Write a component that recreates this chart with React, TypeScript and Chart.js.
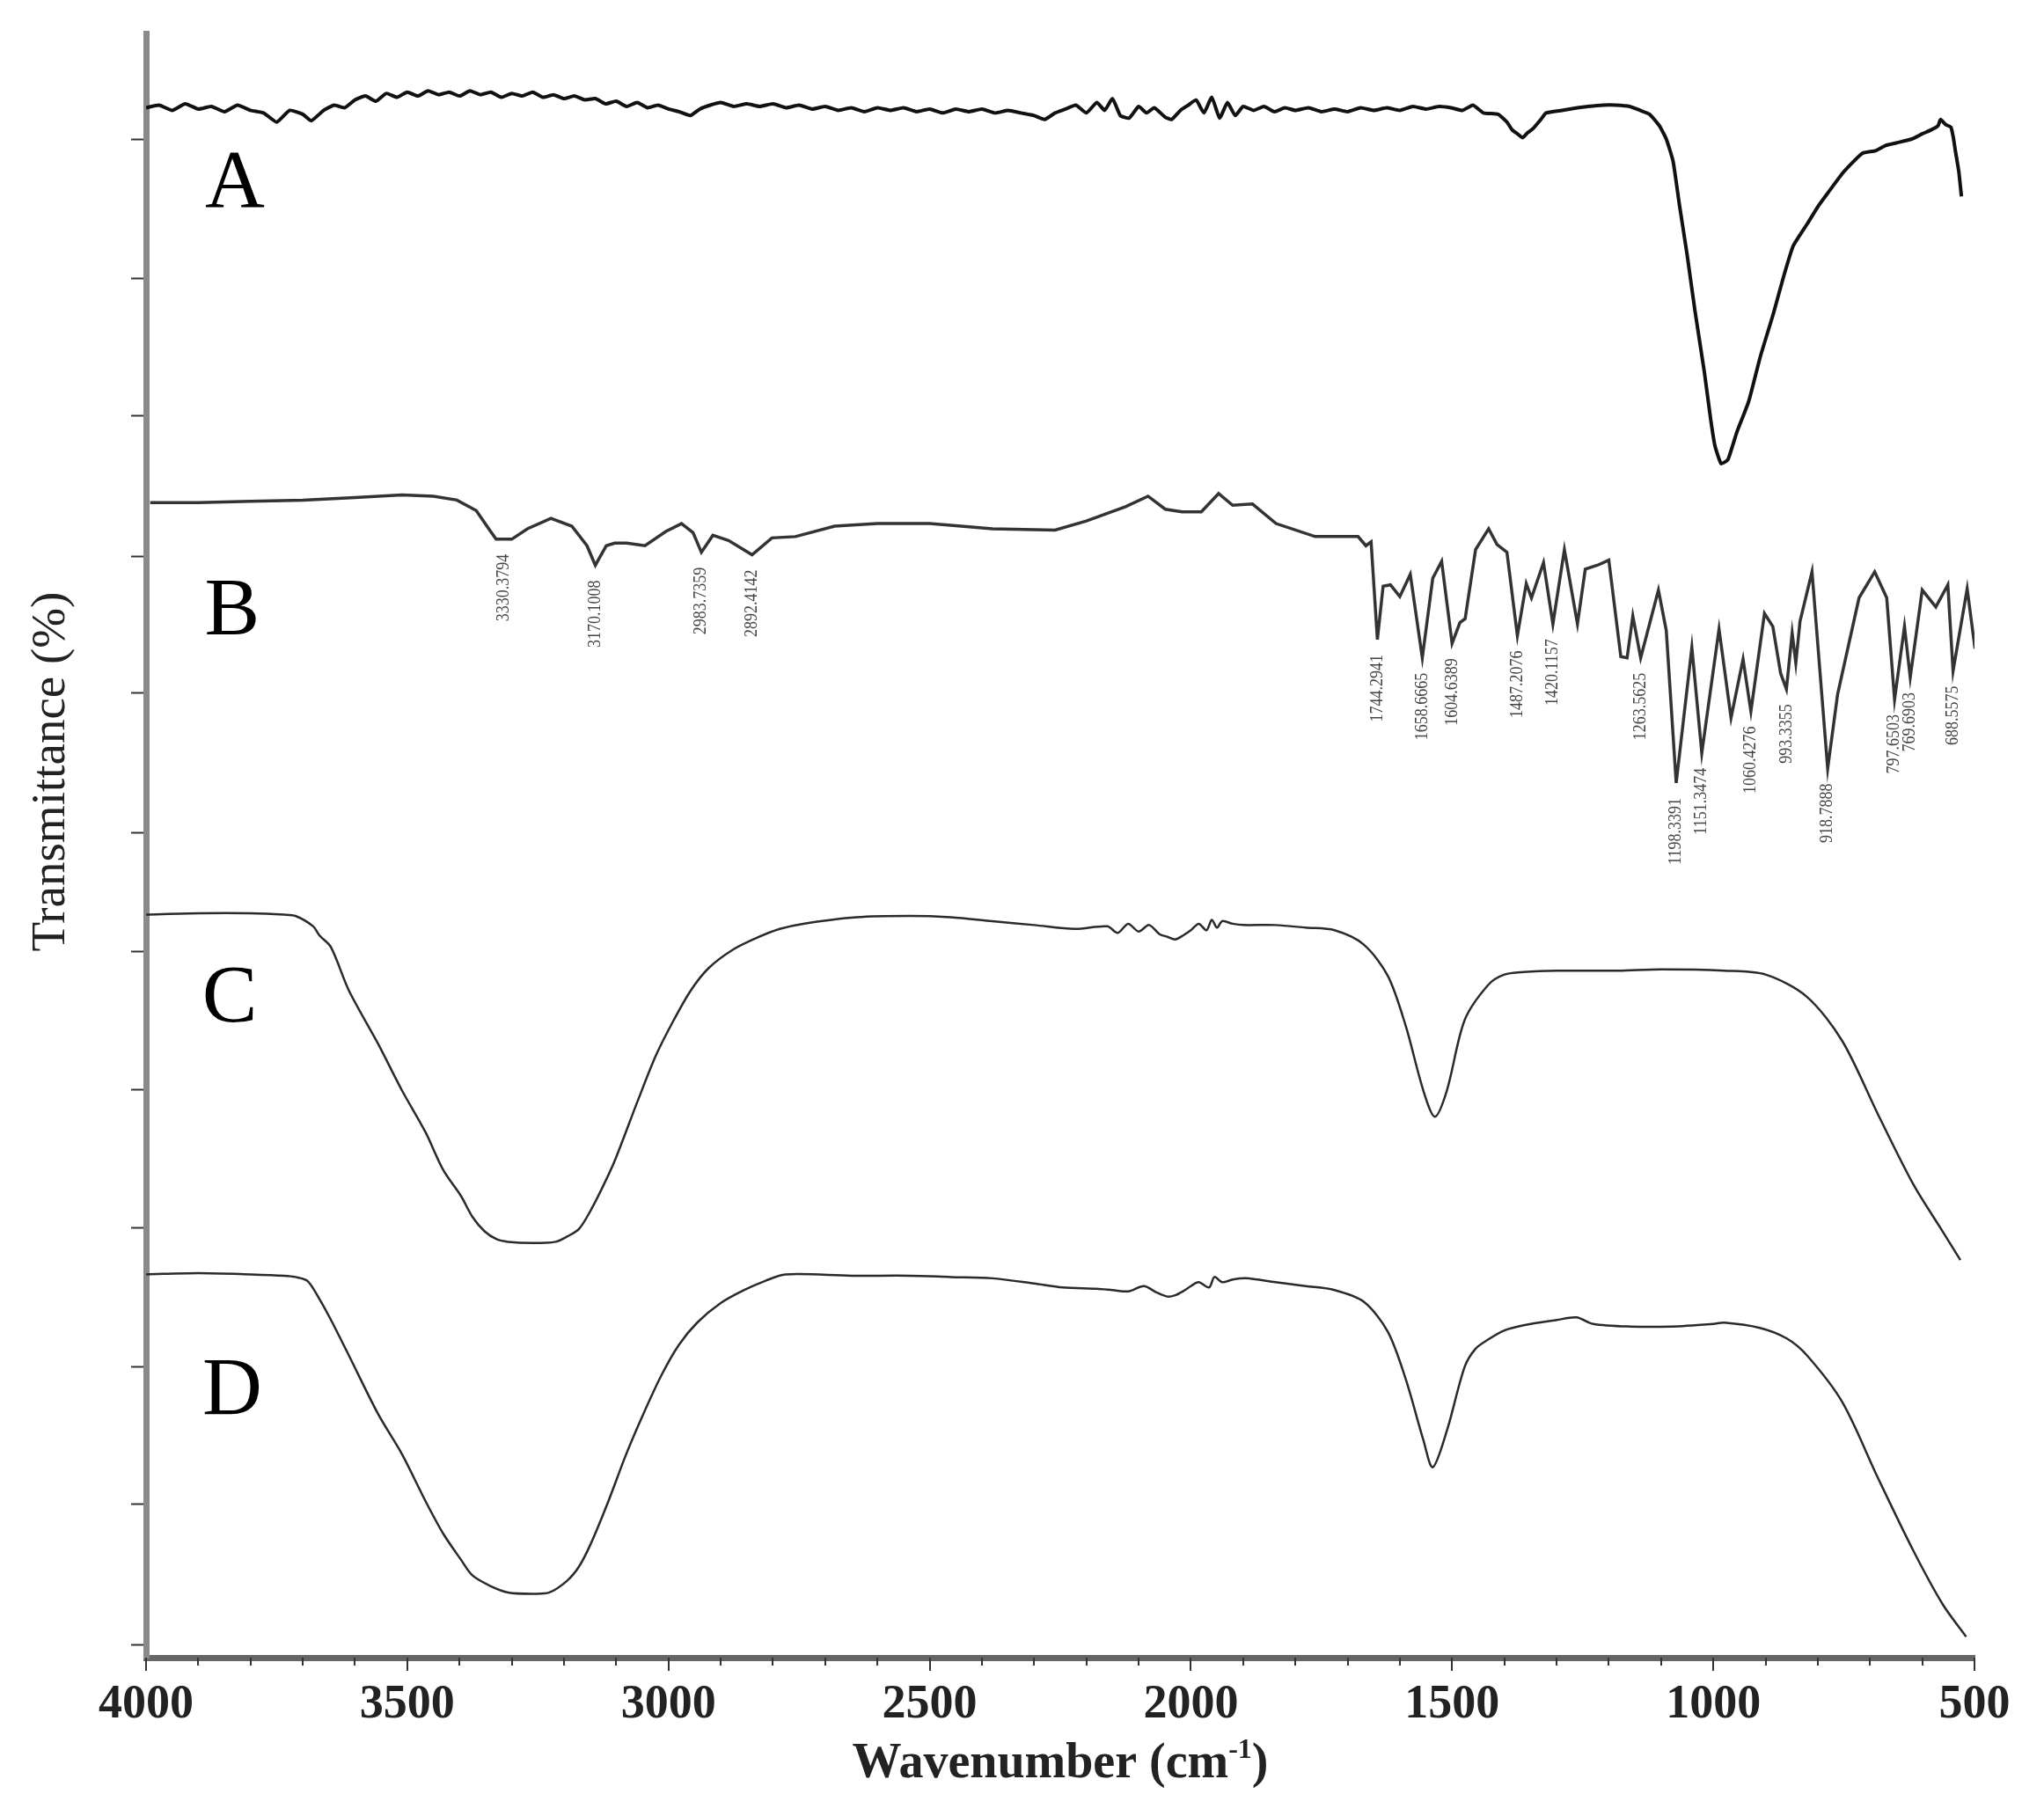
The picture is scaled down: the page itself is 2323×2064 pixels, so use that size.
import React, { useEffect, useRef } from "react";
import { Chart, registerables } from "chart.js";

Chart.register(...registerables);

// ---------- axis values ----------
const X_MIN = 500;
const X_MAX = 4000;
const X_LABEL_TICKS = [4000, 3500, 3000, 2500, 2000, 1500, 1000, 500];
const X_MINOR_STEP = 100;
const Y_MIN = -15;
const Y_MAX = 1231;
const Y_TICKS = [-5, 103, 208, 315, 421, 527, 618, 725, 830, 938, 1043, 1150];

// ---------- spectrum A ----------
const A_X = [4000, 3975, 3950, 3925, 3900, 3875, 3850, 3825, 3800, 3775, 3750, 3725, 3700, 3684, 3660, 3640, 3620, 3600, 3580, 3560, 3540, 3520, 3500, 3480, 3460, 3440, 3420, 3400, 3380, 3360, 3340, 3320, 3300, 3280, 3260, 3240, 3220, 3200, 3180, 3160, 3140, 3120, 3100, 3080, 3060, 3040, 3020, 3000, 2980, 2958, 2940, 2920, 2900, 2875, 2850, 2825, 2800, 2775, 2750, 2725, 2700, 2675, 2650, 2625, 2600, 2575, 2550, 2525, 2500, 2475, 2450, 2425, 2400, 2375, 2350, 2325, 2300, 2280, 2260, 2240, 2220, 2200, 2180, 2165, 2150, 2135, 2118, 2100, 2085, 2070, 2050, 2037, 2020, 2005, 1990, 1975, 1960, 1945, 1930, 1915, 1900, 1880, 1860, 1840, 1820, 1800, 1775, 1750, 1725, 1700, 1675, 1650, 1625, 1600, 1575, 1550, 1525, 1502, 1480, 1460, 1440, 1412, 1395, 1385, 1375, 1365, 1355, 1345, 1330, 1320, 1290, 1260, 1240, 1210, 1187, 1160, 1140, 1122, 1103, 1090, 1077, 1065, 1050, 1035, 1017, 1005, 997, 985, 972, 955, 932, 910, 885, 865, 847, 820, 800, 780, 750, 715, 690, 670, 650, 620, 600, 583, 570, 565, 555, 545, 540, 537, 530, 525];
const A_Y = [1174, 1176, 1172, 1177, 1173, 1175, 1171, 1176, 1172, 1170, 1163, 1172, 1169, 1164, 1172, 1176, 1174, 1180, 1183, 1179, 1185, 1182, 1186, 1183, 1187, 1184, 1186, 1183, 1187, 1184, 1186, 1182, 1185, 1183, 1186, 1182, 1184, 1181, 1183, 1180, 1181, 1177, 1179, 1175, 1178, 1174, 1176, 1173, 1171, 1168, 1173, 1176, 1178, 1175, 1177, 1175, 1177, 1174, 1176, 1173, 1175, 1172, 1174, 1171, 1174, 1172, 1174, 1171, 1173, 1170, 1173, 1171, 1173, 1170, 1172, 1170, 1168, 1165, 1170, 1173, 1176, 1170, 1178, 1172, 1181, 1168, 1166, 1175, 1170, 1174, 1167, 1165, 1172, 1176, 1180, 1170, 1182, 1166, 1178, 1168, 1175, 1172, 1175, 1171, 1174, 1172, 1174, 1171, 1173, 1171, 1174, 1172, 1174, 1172, 1175, 1173, 1175, 1174, 1172, 1176, 1170, 1169, 1163, 1157, 1154, 1151, 1155, 1158, 1165, 1170, 1172, 1174, 1175, 1176, 1176, 1175, 1172, 1169, 1160, 1150, 1133, 1100, 1061, 1018, 971, 935, 915, 901, 904, 925, 949, 983, 1016, 1045, 1068, 1085, 1098, 1109, 1125, 1139, 1141, 1145, 1147, 1150, 1154, 1157, 1160, 1165, 1161, 1159, 1150, 1142, 1125, 1106];

// ---------- spectrum B ----------
const B_X = [3992, 3900, 3800, 3700, 3600, 3510, 3450, 3405, 3368, 3344, 3330, 3315, 3300, 3270, 3225, 3185, 3156, 3140, 3119, 3103, 3080, 3045, 3005, 2975, 2953, 2937, 2915, 2885, 2840, 2802, 2757, 2682, 2600, 2500, 2380, 2260, 2200, 2125, 2082, 2049, 2017, 1980, 1947, 1920, 1882, 1837, 1762, 1680, 1665, 1655, 1643, 1632, 1618, 1600, 1580, 1557, 1537, 1520, 1500, 1485, 1475, 1455, 1430, 1414, 1395, 1375, 1358, 1348, 1325, 1307, 1285, 1260, 1245, 1222, 1200, 1177, 1165, 1154, 1139, 1105, 1090, 1071, 1041, 1022, 989, 966, 943, 928, 902, 886, 871, 860, 849, 842, 834, 811, 781, 762, 721, 691, 668, 653, 634, 623, 600, 574, 551, 541, 514, 499];
const B_Y = [871, 871, 872, 873, 875, 877, 876, 873, 865, 851, 843, 843, 843, 851, 859, 853, 838, 823, 838, 840, 840, 838, 849, 855, 848, 833, 846, 842, 831, 844, 845, 853, 855, 855, 851, 850, 857, 868, 876, 866, 864, 864, 878, 869, 870, 855, 845, 845, 838, 841, 766, 807, 808, 799, 816, 752, 813, 826, 763, 779, 782, 835, 851, 839, 833, 769, 809, 798, 825, 778, 835, 778, 820, 823, 827, 753, 752, 784, 752, 804, 773, 656, 760, 679, 774, 706, 751, 711, 786, 776, 740, 728, 771, 748, 780, 818, 667, 724, 798, 818, 798, 720, 776, 737, 804, 791, 808, 742, 805, 759];

// peak labels of spectrum B and the minima they belong to
const B_PEAK_LABELS = ["3330.3794", "3170.1008", "2983.7359", "2892.4142", "1744.2941", "1658.6665", "1604.6389", "1487.2076", "1420.1157", "1263.5625", "1198.3391", "1151.3474", "1060.4276", "993.3355", "918.7888", "797.6503", "769.6903", "688.5575"];
const B_PEAK_WN = [3315, 3140, 2937, 2840, 1643, 1557, 1500, 1375, 1307, 1139, 1071, 1022, 928, 860, 781, 653, 623, 541];

// ---------- spectrum C ----------
const C_X = [4000, 3900, 3800, 3736, 3714, 3680, 3668, 3646, 3612, 3556, 3510, 3465, 3431, 3397, 3375, 3352, 3329, 3307, 3261, 3216, 3194, 3171, 3149, 3126, 3103, 3058, 3024, 2990, 2957, 2923, 2877, 2832, 2787, 2742, 2640, 2539, 2460, 2380, 2300, 2222, 2160, 2140, 2120, 2100, 2080, 2060, 2045, 2030, 2015, 2000, 1985, 1970, 1960, 1950, 1940, 1920, 1900, 1838, 1780, 1725, 1669, 1623, 1589, 1555, 1533, 1510, 1476, 1431, 1400, 1363, 1300, 1182, 1100, 979, 900, 821, 753, 685, 617, 561, 527];
const C_Y = [555, 556, 556, 555, 554, 546, 539, 530, 497, 456, 420, 388, 359, 339, 323, 312, 306, 304, 303, 304, 308, 314, 328, 346, 366, 413, 447, 474, 497, 514, 528, 537, 544, 548, 553, 554, 553, 550, 547, 544, 546, 541, 548, 542, 547, 540, 538, 536, 539, 543, 548, 543, 551, 545, 550, 548, 547, 547, 545, 543, 532, 508, 470, 420, 400, 420, 474, 501, 509, 511, 512, 512, 513, 512, 509, 492, 458, 402, 348, 312, 290];

// ---------- spectrum D ----------
const D_X = [4000, 3900, 3800, 3736, 3714, 3691, 3668, 3646, 3612, 3556, 3510, 3465, 3431, 3397, 3375, 3341, 3307, 3261, 3228, 3194, 3171, 3148, 3115, 3081, 3048, 3013, 2980, 2945, 2900, 2855, 2815, 2776, 2650, 2539, 2460, 2380, 2300, 2245, 2180, 2150, 2120, 2090, 2065, 2045, 2030, 2015, 2000, 1985, 1965, 1955, 1940, 1920, 1895, 1838, 1780, 1725, 1669, 1623, 1589, 1555, 1537, 1510, 1476, 1455, 1431, 1400, 1363, 1300, 1262, 1230, 1160, 1080, 1000, 979, 911, 860, 821, 753, 685, 617, 561, 516];
const D_Y = [279, 280, 279, 278, 277, 274, 260, 244, 217, 172, 141, 105, 80, 60, 48, 40, 35, 34, 35, 44, 55, 73, 105, 141, 172, 202, 225, 242, 257, 267, 274, 279, 278, 278, 277, 276, 272, 269, 268, 267, 266, 270, 265, 262, 263, 266, 270, 273, 269, 277, 273, 275, 276, 273, 270, 267, 258, 235, 199, 152, 131, 159, 208, 222, 229, 236, 240, 244, 246, 241, 239, 239, 241, 242, 238, 230, 217, 181, 123, 67, 26, 1];

// sample letters (text, wavenumber, transmittance offset of baseline)
const SAMPLE_NAMES = ["A", "B", "C", "D"];
const SAMPLE_NAME_WN = [3830, 3835, 3840, 3835];
const SAMPLE_NAME_Y = [1098, 770, 473, 172];

const X_TITLE = "Wavenumber (cm";
const X_TITLE_SUP = "-1";
const Y_TITLE = "Transmittance (%)";

const SERIF = '"Liberation Serif", "Times New Roman", serif';

function pts(xs: number[], ys: number[]) {
  return xs.map((x, i) => ({ x, y: ys[i] }));
}

const annotPlugin = {
  id: "ftirAnnotations",
  afterDraw(chart: any) {
    const ctx = chart.ctx as CanvasRenderingContext2D;
    const xs = chart.scales.x;
    const ys = chart.scales.y;
    const area = chart.chartArea;
    ctx.save();

    // x axis tick marks (major every 500, minor every 100)
    ctx.strokeStyle = "#333";
    ctx.lineWidth = 2;
    for (let v = X_MIN; v <= X_MAX; v += X_MINOR_STEP) {
      const px = Math.round(xs.getPixelForValue(v));
      const len = v % 500 === 0 ? 15 : 9;
      ctx.beginPath();
      ctx.moveTo(px, area.bottom);
      ctx.lineTo(px, area.bottom + len);
      ctx.stroke();
    }

    // sample letters
    ctx.fillStyle = "#000";
    ctx.font = `94px ${SERIF}`;
    ctx.textAlign = "center";
    ctx.textBaseline = "alphabetic";
    SAMPLE_NAMES.forEach((t, i) => {
      ctx.fillText(t, xs.getPixelForValue(SAMPLE_NAME_WN[i]), ys.getPixelForValue(SAMPLE_NAME_Y[i]));
    });

    // peak labels of B (rotated, below each minimum)
    ctx.fillStyle = "#444";
    ctx.font = `20px ${SERIF}`;
    ctx.textAlign = "left";
    ctx.textBaseline = "middle";
    const sx = 0.9;
    B_PEAK_LABELS.forEach((t, i) => {
      const wn = B_PEAK_WN[i];
      const idx = B_X.indexOf(wn);
      const yv = B_Y[idx];
      const px = xs.getPixelForValue(wn);
      const topY = ys.getPixelForValue(yv) + 17;
      const w = ctx.measureText(t).width * sx;
      ctx.save();
      ctx.translate(px, topY + w);
      ctx.rotate(-Math.PI / 2);
      ctx.scale(sx, 1);
      ctx.fillText(t, 0, 0);
      ctx.restore();
    });

    // y axis title
    ctx.save();
    ctx.fillStyle = "#222";
    ctx.font = `55px ${SERIF}`;
    ctx.textAlign = "center";
    ctx.textBaseline = "alphabetic";
    ctx.translate(73, 877);
    ctx.rotate(-Math.PI / 2);
    ctx.fillText(Y_TITLE, 0, 0);
    ctx.restore();

    // x axis title with superscript
    ctx.fillStyle = "#222";
    ctx.textAlign = "left";
    ctx.textBaseline = "alphabetic";
    const mainFont = `bold 56px ${SERIF}`;
    const supFont = `bold 32px ${SERIF}`;
    ctx.font = mainFont;
    const w1 = ctx.measureText(X_TITLE).width;
    const w3 = ctx.measureText(")").width;
    ctx.font = supFont;
    const w2 = ctx.measureText(X_TITLE_SUP).width;
    const total = w1 + w2 + w3;
    const cx = (area.left + area.right) / 2;
    const x0 = cx - total / 2;
    const base = 2020;
    ctx.font = mainFont;
    ctx.fillText(X_TITLE, x0, base);
    ctx.font = supFont;
    ctx.fillText(X_TITLE_SUP, x0 + w1, base - 22);
    ctx.font = mainFont;
    ctx.fillText(")", x0 + w1 + w2, base);

    ctx.restore();
  },
};

export default function App() {
  const ref = useRef<HTMLCanvasElement>(null);

  useEffect(() => {
    if (!ref.current) return;
    const line = (data: any, color: string, width: number, tension: number) => ({
      data,
      borderColor: color,
      borderWidth: width,
      pointRadius: 0,
      tension,
      fill: false,
    });
    const chart = new Chart(ref.current, {
      type: "line",
      data: {
        datasets: [
          { label: "A", ...line(pts(A_X, A_Y), "#111", 4, 0.15) },
          { label: "B", ...line(pts(B_X, B_Y), "#333", 3.5, 0) },
          { label: "C", ...line(pts(C_X, C_Y), "#2a2a2a", 2.5, 0.3) },
          { label: "D", ...line(pts(D_X, D_Y), "#2a2a2a", 2.5, 0.3) },
        ],
      },
      options: {
        responsive: false,
        animation: false,
        devicePixelRatio: 1,
        layout: { padding: { left: 0, right: 79, top: 38, bottom: 0 } },
        plugins: { legend: { display: false }, tooltip: { enabled: false } },
        scales: {
          x: {
            type: "linear",
            reverse: true,
            min: X_MIN,
            max: X_MAX,
            afterBuildTicks: (s: any) => {
              s.ticks = X_LABEL_TICKS.map((v) => ({ value: v }));
            },
            afterFit: (s: any) => {
              s.height = 180;
            },
            grid: { display: true, drawOnChartArea: false, drawTicks: false },
            border: { display: true, color: "#666", width: 7 },
            ticks: {
              font: { family: SERIF, size: 54, weight: "bold" },
              color: "#222",
              padding: 22,
              maxRotation: 0,
              autoSkip: false,
              callback: (v: any) => String(v),
            },
          },
          y: {
            type: "linear",
            min: Y_MIN,
            max: Y_MAX,
            afterBuildTicks: (s: any) => {
              s.ticks = Y_TICKS.map((v) => ({ value: v }));
            },
            afterFit: (s: any) => {
              s.width = 166;
            },
            grid: {
              display: true,
              drawOnChartArea: false,
              drawTicks: true,
              tickLength: 17,
              tickColor: "#333",
              tickWidth: 2,
            },
            border: { display: true, color: "#8a8a8a", width: 7 },
            ticks: { display: false },
          },
        },
      } as any,
      plugins: [annotPlugin],
    } as any);
    return () => chart.destroy();
  }, []);

  return (
    <div style={{ position: "fixed", left: 0, top: 0, width: 2323, height: 2064, background: "#fff" }}>
      <canvas ref={ref} width={2323} height={2064} style={{ display: "block", width: 2323, height: 2064 }} />
    </div>
  );
}
